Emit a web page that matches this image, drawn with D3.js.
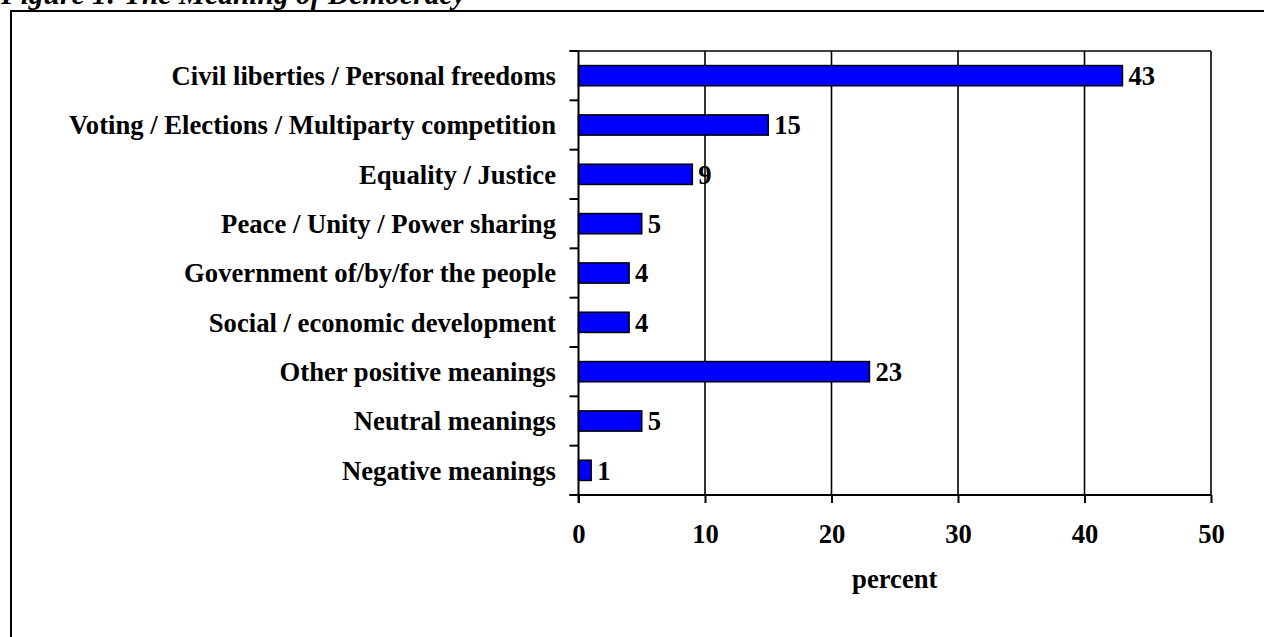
<!DOCTYPE html>
<html>
<head>
<meta charset="utf-8">
<script src="https://cdn.jsdelivr.net/npm/d3@7"></script>
<style>
  html, body { margin: 0; padding: 0; background: #fff; }
  svg { display: block; }
  text { font-family: "Liberation Serif", "Times New Roman", serif; font-weight: bold; fill: #000; }
</style>
</head>
<body>
<svg id="chart" width="1264" height="637"></svg>
<script>
const categories = [
  "Civil liberties / Personal freedoms",
  "Voting / Elections / Multiparty competition",
  "Equality / Justice",
  "Peace / Unity / Power sharing",
  "Government of/by/for the people",
  "Social / economic development",
  "Other positive meanings",
  "Neutral meanings",
  "Negative meanings"
];
const values = [43, 15, 9, 5, 4, 4, 23, 5, 1];
const xTicks = [0, 10, 20, 30, 40, 50];
const titleText = "Figure 1: The Meaning of Democracy";
const xLabel = "percent";

(function () {
const svg = d3.select("#chart");
const FS = 26.67;

// title (clipped at top)
svg.append("text")
  .attr("x", 1).attr("y", 4)
  .style("font-size", "29.5px").style("font-style", "italic")
  .text(titleText);

// outer frame
svg.append("rect")
  .attr("x", 11).attr("y", 11).attr("width", 1300).attr("height", 700)
  .attr("fill", "none").attr("stroke", "#000").attr("stroke-width", 2);

const pL = 578.5, pR = 1211, pT = 51, pB = 495;
const x = d3.scaleLinear().domain([0, 50]).range([pL, pR]);
const y = d3.scaleBand().domain(categories).range([pT, pB])
  .paddingInner(0.59).paddingOuter(0.295);

// gridlines
svg.append("g").selectAll("line").data(xTicks.filter(d => d > 0)).join("line")
  .attr("x1", d => x(d)).attr("x2", d => x(d))
  .attr("y1", pT).attr("y2", pB)
  .attr("stroke", "#000").attr("stroke-width", 1.6);
// top border
svg.append("line").attr("x1", pL - 9).attr("x2", pR).attr("y1", pT).attr("y2", pT)
  .attr("stroke", "#000").attr("stroke-width", 1.6);

// bars
svg.append("g").selectAll("rect").data(categories).join("rect")
  .attr("x", x(0))
  .attr("y", d => y(d))
  .attr("width", (d, i) => x(values[i]) - x(0))
  .attr("height", y.bandwidth())
  .attr("fill", "#0000ff").attr("stroke", "#000").attr("stroke-width", 1.5);

// value labels
svg.append("g").selectAll("text").data(categories).join("text")
  .attr("x", (d, i) => x(values[i]) + 6)
  .attr("y", d => y(d) + y.bandwidth() / 2)
  .attr("dy", "0.35em")
  .style("font-size", FS + "px")
  .text((d, i) => values[i]);

// x axis
const xAxis = svg.append("g").attr("transform", `translate(0,${pB})`)
  .call(d3.axisBottom(x).tickValues(xTicks).tickSize(8).tickSizeOuter(0).tickPadding(21));
xAxis.select(".domain").remove();
xAxis.selectAll(".tick line").attr("stroke", "#000").attr("stroke-width", 2);
xAxis.selectAll(".tick text").style("font-size", FS + "px")
  .style("font-family", "Liberation Serif, serif").style("font-weight", "bold");
svg.append("line").attr("x1", pL - 9).attr("x2", pR).attr("y1", pB).attr("y2", pB)
  .attr("stroke", "#000").attr("stroke-width", 2);

// y axis: category labels
const yAxis = svg.append("g").attr("transform", `translate(${pL},0)`)
  .call(d3.axisLeft(y).tickSize(0).tickPadding(22.5));
yAxis.select(".domain").remove();
yAxis.selectAll(".tick text").style("font-size", FS + "px")
  .style("font-family", "Liberation Serif, serif").style("font-weight", "bold")
  .attr("dy", "0.35em");
svg.append("line").attr("x1", pL).attr("x2", pL).attr("y1", pT).attr("y2", pB + 8)
  .attr("stroke", "#000").attr("stroke-width", 2);
// boundary ticks
const bounds = d3.range(categories.length + 1).map(i => pT + i * y.step());
svg.append("g").selectAll("line").data(bounds).join("line")
  .attr("x1", pL - 9).attr("x2", pL).attr("y1", d => d).attr("y2", d => d)
  .attr("stroke", "#000").attr("stroke-width", 2);

// x label
svg.append("text")
  .attr("x", (pL + pR) / 2).attr("y", 588)
  .attr("text-anchor", "middle")
  .style("font-size", FS + "px")
  .text(xLabel);
})();
</script>
</body>
</html>
